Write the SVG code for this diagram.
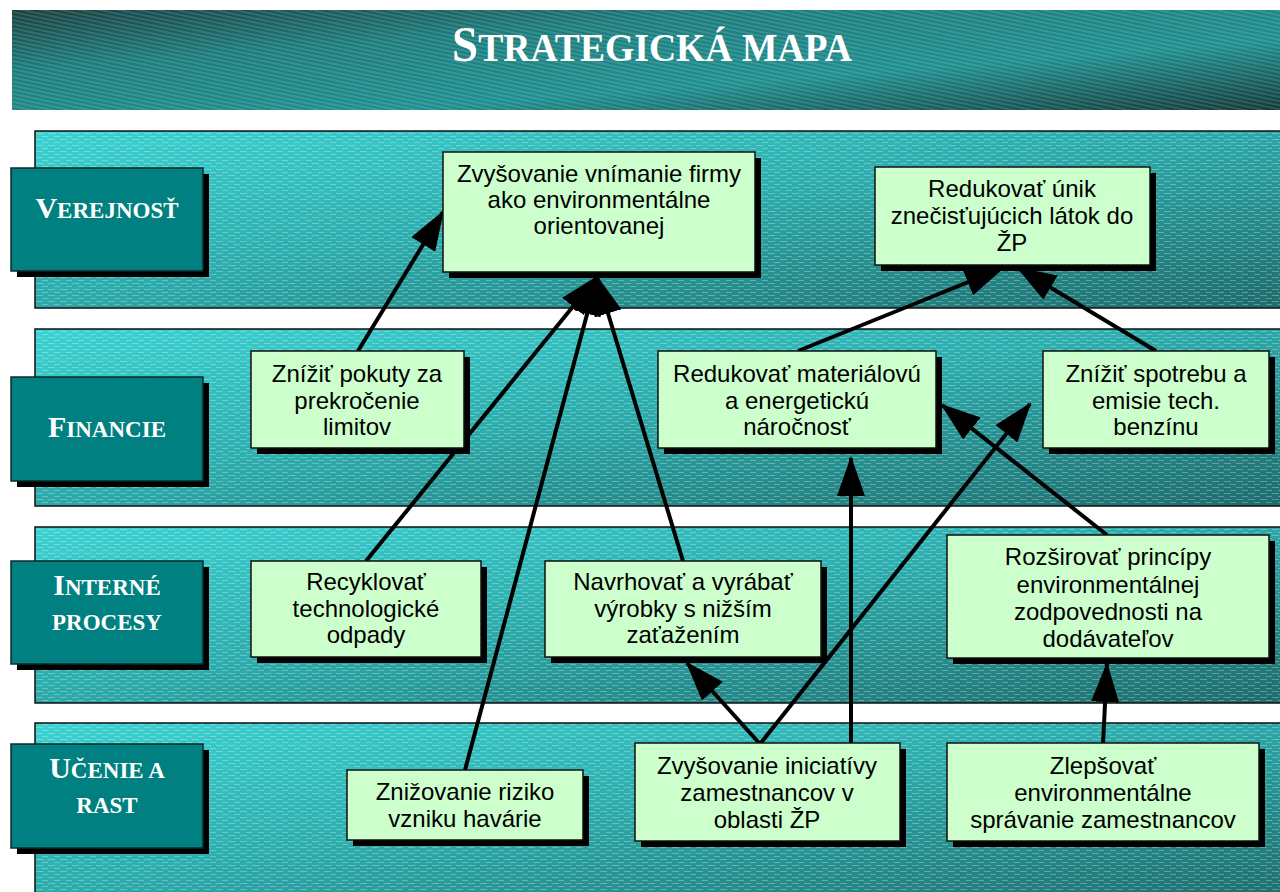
<svg xmlns="http://www.w3.org/2000/svg" width="1280" height="892" viewBox="0 0 1280 892">
<defs>
<linearGradient id="gTitle" x1="0" y1="0" x2="1" y2="1">
<stop offset="0" stop-color="#173f3f"/>
<stop offset="0.3" stop-color="#1b7b7b"/>
<stop offset="0.65" stop-color="#1d8e8e"/>
<stop offset="1" stop-color="#123838"/>
</linearGradient>
<linearGradient id="gBand" x1="0" y1="0" x2="1" y2="1">
<stop offset="0" stop-color="#3dd2d2"/>
<stop offset="0.45" stop-color="#2eaeae"/>
<stop offset="1" stop-color="#1f6c6c"/>
</linearGradient>
<pattern id="pStripe" width="10" height="4" patternUnits="userSpaceOnUse" patternTransform="rotate(12)">
<rect width="10" height="2" fill="#ffffff" opacity="0.13"/>
</pattern>
<pattern id="pDash" width="12" height="6" patternUnits="userSpaceOnUse">
<rect x="0" y="1" width="7" height="1" fill="#ffffff" opacity="0.28"/>
<rect x="6" y="4" width="7" height="1" fill="#ffffff" opacity="0.28"/>
</pattern>
<marker id="ah" viewBox="0 0 40 28" refX="38" refY="14" markerWidth="40" markerHeight="28" markerUnits="userSpaceOnUse" orient="auto">
<path d="M0,0 L40,14 L0,28 z" fill="#000"/>
</marker>
<style>
.band{fill:url(#gBand);stroke:#111;stroke-width:1.5}
.dash{fill:url(#pDash)}
.lab{fill:#008080;stroke:#0a2a2a;stroke-width:1.5}
.shadow{fill:#000}
.box{fill:#ccffcc;stroke:#111;stroke-width:1.5}
.lt{font-family:"Liberation Serif","Times New Roman",serif;font-weight:bold;fill:#fff;text-anchor:middle;font-size:23px}
.lt .big{font-size:30px}
.bt{font-family:"Liberation Sans",Arial,sans-serif;font-size:24px;fill:#000;text-anchor:middle}
.con line{stroke:#000;stroke-width:4;marker-end:url(#ah)}
</style>
</defs>

<g id="title">
<rect x="12" y="10" width="1268" height="100" fill="url(#gTitle)"/>
<rect x="12" y="10" width="1268" height="100" fill="url(#pStripe)"/>
<text x="652" y="61" font-family="'Liberation Serif','Times New Roman',serif" font-weight="bold" fill="#fff" text-anchor="middle" font-size="40" textLength="400" lengthAdjust="spacingAndGlyphs"><tspan font-size="50">S</tspan>TRATEGICKÁ MAPA</text>
</g>

<g id="bands">
<rect class="band" x="35" y="131" width="1250" height="177"/>
<rect class="dash" x="36" y="132" width="1244" height="175"/>
<rect class="band" x="35" y="329" width="1250" height="177"/>
<rect class="dash" x="36" y="330" width="1244" height="175"/>
<rect class="band" x="35" y="527" width="1250" height="176"/>
<rect class="dash" x="36" y="528" width="1244" height="174"/>
<rect class="band" x="35" y="723" width="1250" height="180"/>
<rect class="dash" x="36" y="724" width="1244" height="168"/>
</g>

<g id="lab-verejnost">
<rect class="shadow" x="17" y="174" width="192" height="103"/>
<rect class="lab" x="11" y="168" width="192" height="103"/>
<text class="lt" x="107" y="218"><tspan class="big">V</tspan>EREJNOSŤ</text>
</g>
<g id="lab-financie">
<rect class="shadow" x="17" y="383" width="192" height="104"/>
<rect class="lab" x="11" y="377" width="192" height="104"/>
<text class="lt" x="107" y="437"><tspan class="big">F</tspan>INANCIE</text>
</g>
<g id="lab-interne">
<rect class="shadow" x="17" y="567" width="192" height="103"/>
<rect class="lab" x="11" y="561" width="192" height="103"/>
<text class="lt" x="107" y="595"><tspan class="big">I</tspan>NTERNÉ</text>
<text class="lt" x="107" y="630">PROCESY</text>
</g>
<g id="lab-ucenie">
<rect class="shadow" x="17" y="750" width="192" height="104"/>
<rect class="lab" x="11" y="744" width="192" height="104"/>
<text class="lt" x="107" y="778"><tspan class="big">U</tspan>ČENIE A</text>
<text class="lt" x="107" y="813">RAST</text>
</g>

<g id="connectors" class="con">
<line x1="358" y1="351" x2="443" y2="212"/>
<line x1="366" y1="561" x2="597" y2="277"/>
<line x1="465" y1="770" x2="597" y2="277"/>
<line x1="683" y1="561" x2="597" y2="277"/>
<line x1="798" y1="351" x2="1003" y2="268"/>
<line x1="1156" y1="351" x2="1018" y2="268"/>
<line x1="760" y1="744" x2="687" y2="663"/>
<line x1="760" y1="744" x2="1030" y2="404"/>
<line x1="851" y1="744" x2="851" y2="458"/>
<line x1="1107" y1="535" x2="942" y2="405"/>
<line x1="1103" y1="744" x2="1107" y2="664"/>
</g>

<g id="n-vnimanie">
<rect class="shadow" x="449" y="158" width="312" height="120"/>
<rect class="box" x="443" y="152" width="312" height="120"/>
<text class="bt" x="599" y="182">Zvyšovanie vnímanie firmy</text>
<text class="bt" x="599" y="208">ako environmentálne</text>
<text class="bt" x="599" y="234">orientovanej</text>
</g>
<g id="n-unik">
<rect class="shadow" x="881" y="173" width="275" height="98"/>
<rect class="box" x="875" y="167" width="275" height="98"/>
<text class="bt" x="1012" y="197">Redukovať únik</text>
<text class="bt" x="1012" y="224">znečisťujúcich látok do</text>
<text class="bt" x="1012" y="251">ŽP</text>
</g>
<g id="n-pokuty">
<rect class="shadow" x="257" y="357" width="213" height="97"/>
<rect class="box" x="251" y="351" width="213" height="97"/>
<text class="bt" x="357" y="382">Znížiť pokuty za</text>
<text class="bt" x="357" y="409">prekročenie</text>
<text class="bt" x="357" y="435">limitov</text>
</g>
<g id="n-material">
<rect class="shadow" x="664" y="357" width="278" height="97"/>
<rect class="box" x="658" y="351" width="278" height="97"/>
<text class="bt" x="797" y="382">Redukovať materiálovú</text>
<text class="bt" x="797" y="409">a energetickú</text>
<text class="bt" x="797" y="435">náročnosť</text>
</g>
<g id="n-spotreba">
<rect class="shadow" x="1049" y="357" width="226" height="97"/>
<rect class="box" x="1043" y="351" width="226" height="97"/>
<text class="bt" x="1156" y="382">Znížiť spotrebu a</text>
<text class="bt" x="1156" y="409">emisie tech.</text>
<text class="bt" x="1156" y="435">benzínu</text>
</g>
<g id="n-recyklovat">
<rect class="shadow" x="257" y="567" width="230" height="96"/>
<rect class="box" x="251" y="561" width="230" height="96"/>
<text class="bt" x="366" y="590">Recyklovať</text>
<text class="bt" x="366" y="617">technologické</text>
<text class="bt" x="366" y="643">odpady</text>
</g>
<g id="n-navrhovat">
<rect class="shadow" x="551" y="567" width="276" height="96"/>
<rect class="box" x="545" y="561" width="276" height="96"/>
<text class="bt" x="683" y="590">Navrhovať a vyrábať</text>
<text class="bt" x="683" y="617">výrobky s nižším</text>
<text class="bt" x="683" y="643">zaťažením</text>
</g>
<g id="n-rozsirovat">
<rect class="shadow" x="953" y="541" width="322" height="123"/>
<rect class="box" x="947" y="535" width="322" height="123"/>
<text class="bt" x="1108" y="565">Rozširovať princípy</text>
<text class="bt" x="1108" y="593">environmentálnej</text>
<text class="bt" x="1108" y="620">zodpovednosti na</text>
<text class="bt" x="1108" y="647">dodávateľov</text>
</g>
<g id="n-riziko">
<rect class="shadow" x="353" y="776" width="236" height="70"/>
<rect class="box" x="347" y="770" width="236" height="70"/>
<text class="bt" x="465" y="800">Znižovanie riziko</text>
<text class="bt" x="465" y="827">vzniku havárie</text>
</g>
<g id="n-iniciativy">
<rect class="shadow" x="641" y="749" width="265" height="98"/>
<rect class="box" x="635" y="743" width="265" height="98"/>
<text class="bt" x="767" y="774">Zvyšovanie iniciatívy</text>
<text class="bt" x="767" y="801">zamestnancov v</text>
<text class="bt" x="767" y="828">oblasti ŽP</text>
</g>
<g id="n-zlepsovat">
<rect class="shadow" x="953" y="749" width="312" height="98"/>
<rect class="box" x="947" y="743" width="312" height="98"/>
<text class="bt" x="1103" y="774">Zlepšovať</text>
<text class="bt" x="1103" y="801">environmentálne</text>
<text class="bt" x="1103" y="828">správanie zamestnancov</text>
</g>
</svg>
